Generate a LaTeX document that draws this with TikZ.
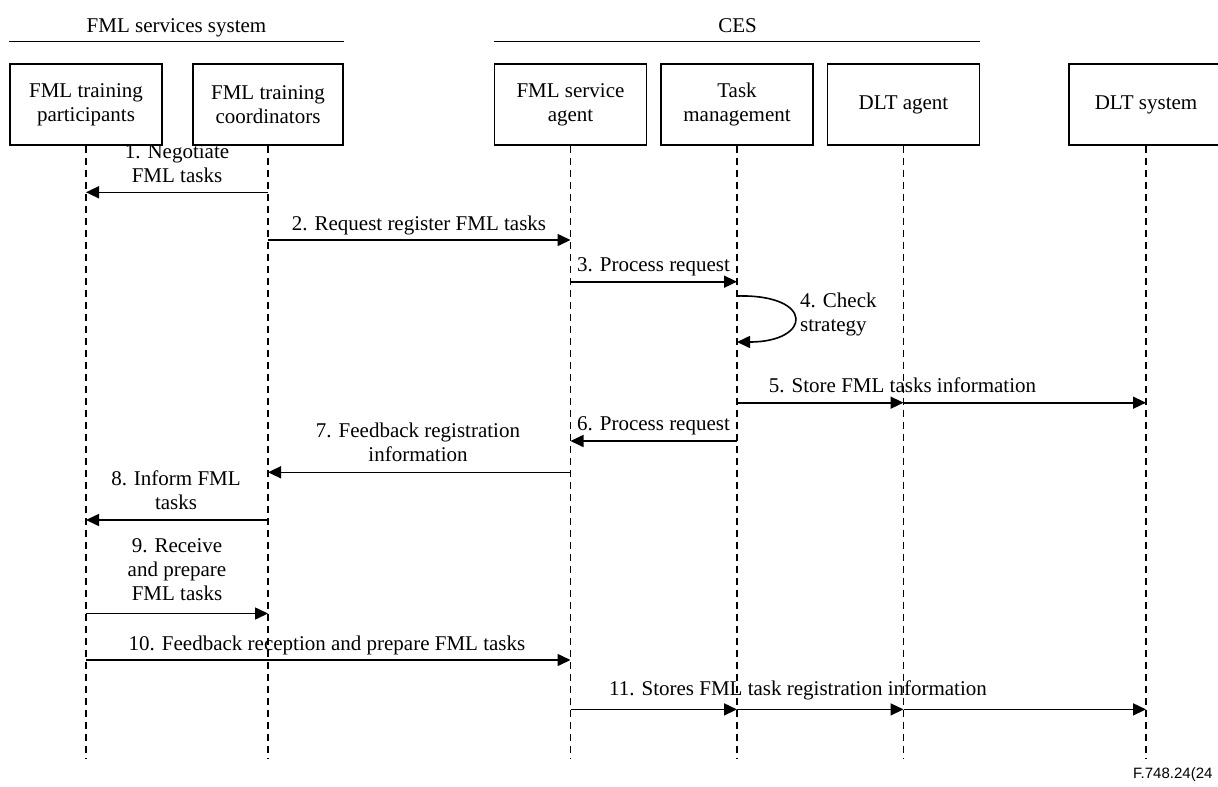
\documentclass[tikz,border=0pt]{standalone}
\usepackage{fontspec}
\setmainfont{Liberation Serif}
\setsansfont{Liberation Sans}
\usetikzlibrary{arrows.meta}
\begin{document}
\begin{tikzpicture}[x=1pt,y=-1pt,
  lbl/.style={font=\fontsize{21}{24}\selectfont, align=center, inner sep=0pt},
  msgtext/.style={lbl, anchor=south, text depth=0pt},
  actor/.style={draw, line width=1.5pt, minimum width=152pt, minimum height=81pt, inner sep=0pt, lbl},
  life/.style={line width=1.4pt, dash pattern=on 7pt off 5pt},
  msg/.style={line width=1.6pt, -{Triangle[length=13pt,width=12pt]}},
  grouprule/.style={line width=1.5pt}]
\useasboundingbox (0,0) rectangle (1218,787);

% participants
\node[actor] (P) at (86,104.5) {FML training\\participants};
\node[actor, minimum width=150pt] (C) at (268,104.5) {FML training\\coordinators};
\node[actor] (A) at (570.5,104.5) {FML service\\agent};
\node[actor] (T) at (737,104.5) {Task\\management};
\node[actor] (D) at (903.5,104.5) {DLT agent};
\node[actor, minimum width=154pt] (S) at (1146,104.5) {DLT system};

% group headings
\coordinate (g1a) at (P.west |- 0,41.5);
\coordinate (g1b) at (C.east |- 0,41.5);
\coordinate (g2a) at (A.west |- 0,41.5);
\coordinate (g2b) at (D.east |- 0,41.5);
\draw[grouprule] (g1a) -- (g1b);
\draw[grouprule] (g2a) -- (g2b);
\node[lbl, anchor=base] (g1) at (176.5,32.5) {FML services system};
\node[lbl, anchor=base] (g2) at (737.5,32.5) {CES};

% lifelines
\foreach \n in {P,C,A,T,D,S} {
  \coordinate (\n end) at (\n.south |- 0,758);
  \draw[life] (\n.south) -- (\n end);
}

% messages
\draw[msg] (C |- 0,192.3) -- (P |- 0,192.3);
\node[msgtext] (m1) at (177,183) {1. Negotiate\\FML tasks};

\draw[msg] (C |- 0,240) -- (A |- 0,240);
\node[msgtext] (m2) at (419,230.5) {2. Request register FML tasks};

\draw[msg] (A |- 0,281.7) -- (T |- 0,281.7);
\node[msgtext] (m3) at (653.5,271.5) {3. Process request};

\draw[msg] (T |- 0,296) .. controls (815,294) and (812,342) .. (T |- 0,342);
\node[lbl, align=left, anchor=west] (m4) at (800,314) {4. Check\\strategy};

\draw[msg] (T |- 0,402.7) -- (D |- 0,402.7);
\draw[msg] (D |- 0,402.7) -- (S |- 0,402.7);
\node[msgtext] (m5) at (902.5,392.5) {5. Store FML tasks information};

\draw[msg] (T |- 0,441) -- (A |- 0,441);
\node[msgtext] (m6) at (653.5,431) {6. Process request};

\draw[msg] (A |- 0,472.3) -- (C |- 0,472.3);
\node[msgtext] (m7) at (418,461.5) {7. Feedback registration\\information};

\draw[msg] (C |- 0,520) -- (P |- 0,520);
\node[msgtext] (m8) at (176,509.5) {8. Inform FML\\tasks};

\draw[msg] (P |- 0,613.5) -- (C |- 0,613.5);
\node[msgtext] (m9) at (177,601) {9. Receive\\and prepare\\FML tasks};

\draw[msg] (P |- 0,660) -- (A |- 0,660);
\node[msgtext] (m10) at (327,651) {10. Feedback reception and prepare FML tasks};

\draw[msg] (A |- 0,709.4) -- (T |- 0,709.4);
\draw[msg] (T |- 0,709.4) -- (D |- 0,709.4);
\draw[msg] (D |- 0,709.4) -- (S |- 0,709.4);
\node[msgtext] (m11) at (798,695.5) {11. Stores FML task registration information};

% figure number
\node[font=\sffamily\fontsize{15}{17}\selectfont, anchor=base west, inner sep=0pt] (fig) at (1133,778) {F.748.24(24};
\end{tikzpicture}
\end{document}
